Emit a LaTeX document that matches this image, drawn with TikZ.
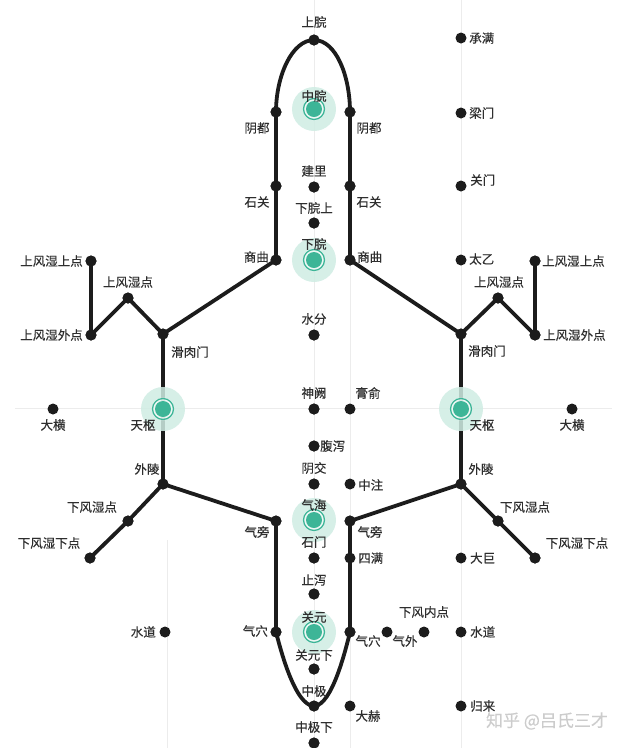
\documentclass[tikz,border=0pt]{standalone}
\usepackage{fontspec}
\newfontfamily\cjk{Noto Sans CJK SC}[FakeBold=0.35]
\definecolor{txtc}{HTML}{2E2E2E}
\definecolor{linec}{HTML}{1C1C1C}
\definecolor{tealc}{HTML}{3DB597}
\definecolor{haloc}{HTML}{CFECE3}
\definecolor{gridc}{HTML}{ECECEC}
\tikzset{
  dot/.style={circle,fill=linec,inner sep=0pt,minimum size=11pt},
  hl/.style={circle,inner sep=0pt,minimum size=17pt},
  lbl/.style={font=\cjk\fontsize{12.5}{14}\selectfont,text=txtc,inner sep=0pt},
  thickline/.style={draw=linec,line width=3.8pt,line join=round,line cap=round},
  gridline/.style={draw=gridc,line width=0.8pt},
}
\begin{document}
\begin{tikzpicture}[x=1pt,y=-1pt]
\useasboundingbox (0,0) rectangle (630,748);
% faint grid
\draw[gridline] (314,0) -- (314,748);
\draw[gridline] (350,250) -- (350,748);
\draw[gridline] (461,0) -- (461,748);
\draw[gridline] (167,540) -- (167,748);
\draw[gridline] (15,408) -- (612,408);

% centre column
\node[dot] (shangwan) at (314,40) {};
\node[hl] (zhongwan) at (314,109) {};
\node[dot] (jianli) at (314,187) {};
\node[dot] (xiawans) at (314,223) {};
\node[hl] (xiawan) at (314,260) {};
\node[dot] (shuifen) at (314,335) {};
\node[dot] (shenque) at (314,409) {};
\node[dot] (fuxie) at (314,446) {};
\node[dot] (yinjiao) at (314,484) {};
\node[hl] (qihai) at (314,520) {};
\node[dot] (shimen) at (314,558) {};
\node[dot] (zhixie) at (314,594) {};
\node[hl] (guanyuan) at (314,632) {};
\node[dot] (guanyuanx) at (314,669) {};
\node[dot] (zhongji) at (314,706) {};
\node[dot] (zhongjix) at (314,743) {};

% inner columns
\node[dot] (yinduL) at (276,112) {};
\node[dot] (yinduR) at (350,112) {};
\node[dot] (shiguanL) at (276,186) {};
\node[dot] (shiguanR) at (350,186) {};
\node[dot] (shangquL) at (276,260) {};
\node[dot] (shangquR) at (350,260) {};
\node[dot] (qipangL) at (276,521) {};
\node[dot] (qipangR) at (350,521) {};
\node[dot] (qixueL) at (276,632) {};
\node[dot] (qixueR) at (350,632) {};
\node[dot] (gaoshu) at (350,409) {};
\node[dot] (zhongzhu) at (350,484) {};
\node[dot] (siman) at (350,558) {};
\node[dot] (dahe) at (350,706) {};

% outer
\node[dot] (huaL) at (163,334) {};
\node[dot] (huaR) at (461,334) {};
\node[hl] (tianshuL) at (163,409) {};
\node[hl] (tianshuR) at (461,409) {};
\node[dot] (wailingL) at (163,484) {};
\node[dot] (wailingR) at (461,484) {};
\node[dot] (sfsL) at (128,298) {};
\node[dot] (sfsR) at (498,298) {};
\node[dot] (sfswL) at (91,335) {};
\node[dot] (sfswR) at (535,335) {};
\node[dot] (sfssL) at (91,261) {};
\node[dot] (sfssR) at (535,261) {};
\node[dot] (xfsL) at (128,521) {};
\node[dot] (xfsR) at (498,521) {};
\node[dot] (xfsxL) at (90,558) {};
\node[dot] (xfsxR) at (535,558) {};
\node[dot] (dahengL) at (53,409) {};
\node[dot] (dahengR) at (572,409) {};
\node[dot] (chengman) at (461,38) {};
\node[dot] (liangmen) at (461,113) {};
\node[dot] (guanmen) at (461,186) {};
\node[dot] (taiyi) at (461,260) {};
\node[dot] (daju) at (461,558) {};
\node[dot] (shuidaoR) at (461,632) {};
\node[dot] (guilai) at (461,706) {};
\node[dot] (shuidaoL) at (165,632) {};
\node[dot] (qiwai) at (387,632) {};
\node[dot] (xfn) at (424,632) {};

% thick connectors
\path[thickline] (yinduL.center) .. controls (276,76) and (292,40) .. (shangwan.center)
  .. controls (336,40) and (350,76) .. (yinduR.center);
\path[thickline] (yinduL.center) -- (shiguanL.center) -- (shangquL.center) -- (huaL.center)
  -- (tianshuL.center) -- (wailingL.center) -- (qipangL.center) -- (qixueL.center);
\path[thickline] (yinduR.center) -- (shiguanR.center) -- (shangquR.center) -- (huaR.center)
  -- (tianshuR.center) -- (wailingR.center) -- (qipangR.center) -- (qixueR.center);
\path[thickline] (qixueL.center) parabola bend (zhongji.center) (qixueR.center);
\path[thickline] (huaL.center) -- (sfsL.center) -- (sfswL.center) -- (sfssL.center);
\path[thickline] (huaR.center) -- (sfsR.center) -- (sfswR.center) -- (sfssR.center);
\path[thickline] (wailingL.center) -- (xfsL.center) -- (xfsxL.center);
\path[thickline] (wailingR.center) -- (xfsR.center) -- (xfsxR.center);

% redraw dots on top
\foreach \n in {shangwan,jianli,xiawans,shuifen,shenque,fuxie,yinjiao,shimen,zhixie,guanyuanx,zhongji,zhongjix,
  yinduL,yinduR,shiguanL,shiguanR,shangquL,shangquR,qipangL,qipangR,qixueL,qixueR,
  huaL,huaR,wailingL,wailingR,sfsL,sfsR,sfswL,sfswR,sfssL,sfssR,xfsL,xfsR,xfsxL,xfsxR}
  {\fill[linec] (\n) circle (5.5);}

% highlighted points
\foreach \n in {zhongwan,xiawan,qihai,guanyuan,tianshuL,tianshuR}{
  \fill[haloc,opacity=0.85] (\n) circle (22);
  \fill[white,opacity=0.55] (\n) circle (11.5);
  \draw[tealc,line width=1.3pt] (\n) circle (10.5);
  \fill[tealc] (\n) circle (8);
}

% labels
\node[lbl] at (314,22) {上脘};
\node[lbl] at (314,96) {中脘};
\node[lbl] at (257,128) {阴都};
\node[lbl] at (369,128) {阴都};
\node[lbl] at (314,171) {建里};
\node[lbl] at (257,202) {石关};
\node[lbl] at (369,202) {石关};
\node[lbl] at (314,208) {下脘上};
\node[lbl] at (314,244) {下脘};
\node[lbl,anchor=east] at (269,257) {商曲};
\node[lbl,anchor=west] at (357,257) {商曲};
\node[lbl] at (314,319) {水分};
\node[lbl] at (190,352) {滑肉门};
\node[lbl] at (487,351) {滑肉门};
\node[lbl] at (128,282) {上风湿点};
\node[lbl] at (499,282) {上风湿点};
\node[lbl,anchor=east] at (83,261) {上风湿上点};
\node[lbl,anchor=east] at (83,335) {上风湿外点};
\node[lbl,anchor=west] at (542,261) {上风湿上点};
\node[lbl,anchor=west] at (543,335) {上风湿外点};
\node[lbl,anchor=west] at (469,259) {太乙};
\node[lbl,anchor=west] at (469,38) {承满};
\node[lbl,anchor=west] at (469,113) {梁门};
\node[lbl,anchor=west] at (470,180) {关门};
\node[lbl] at (314,393) {神阙};
\node[lbl] at (368,393) {膏俞};
\node[lbl] at (143,425) {天枢};
\node[lbl] at (482,425) {天枢};
\node[lbl] at (53,425) {大横};
\node[lbl] at (572,425) {大横};
\node[lbl,anchor=west] at (320,446) {腹泻};
\node[lbl] at (314,468) {阴交};
\node[lbl,anchor=west] at (358,485) {中注};
\node[lbl] at (147,469) {外陵};
\node[lbl] at (481,469) {外陵};
\node[lbl] at (92,507) {下风湿点};
\node[lbl] at (525,507) {下风湿点};
\node[lbl] at (314,505) {气海};
\node[lbl] at (257,532) {气旁};
\node[lbl] at (370,532) {气旁};
\node[lbl] at (49,543) {下风湿下点};
\node[lbl] at (577,543) {下风湿下点};
\node[lbl] at (314,542) {石门};
\node[lbl,anchor=west] at (358,558) {四满};
\node[lbl,anchor=west] at (470,558) {大巨};
\node[lbl] at (314,580) {止泻};
\node[lbl] at (314,617) {关元};
\node[lbl] at (424,612) {下风内点};
\node[lbl,anchor=east] at (156,632) {水道};
\node[lbl,anchor=west] at (470,632) {水道};
\node[lbl,anchor=east] at (268,631) {气穴};
\node[lbl] at (368,641) {气穴};
\node[lbl] at (405,641) {气外};
\node[lbl] at (314,655) {关元下};
\node[lbl] at (314,691) {中极};
\node[lbl] at (368,716) {大赫};
\node[lbl,anchor=west] at (470,706) {归来};
\node[lbl] at (314,727) {中极下};
% watermark
\node[font=\cjk\fontsize{17}{19}\selectfont,text=black!20,inner sep=0pt] (wm) at (547,721) {知乎 @吕氏三才};
\end{tikzpicture}
\end{document}
